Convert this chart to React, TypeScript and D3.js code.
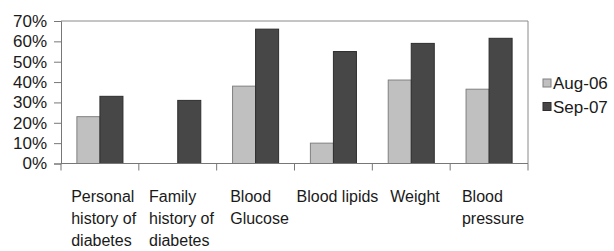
import { useRef, useEffect } from 'react';
import * as d3 from 'd3';

// chart data
const categories = [
  ["Personal", "history of", "diabetes"],
  ["Family", "history of", "diabetes"],
  ["Blood", "Glucose"],
  ["Blood lipids"],
  ["Weight"],
  ["Blood", "pressure"]
];
const seriesNames = ["Aug-06", "Sep-07"];
const aug06 = [23, 0, 38, 10, 41, 36.5];
const sep07 = [33, 31, 66, 55, 59, 61.5];
const yTicks = [0, 10, 20, 30, 40, 50, 60, 70];

const fills = ["#c0c0c0", "#474747"];
const strokes = ["#808080", "#2e2e2e"];

export default function App() {
  const ref = useRef<SVGSVGElement>(null);

  useEffect(() => {
    if (!ref.current) return;
    const width = 614;
    const height = 251;
    const margin = { top: 21, right: 86, bottom: 87.5, left: 61 };
    const font = "'Liberation Sans', Arial, sans-serif";

    const svg = d3.select(ref.current)
      .attr('width', width)
      .attr('height', height);
    svg.selectAll("*").remove();

    const idx = categories.map((_, i) => i);
    const x = d3.scaleBand<number>()
      .domain(idx)
      .range([margin.left, width - margin.right]);
    const x1 = d3.scaleBand<number>()
      .domain([0, 1])
      .range([0, x.bandwidth()])
      .paddingOuter(0.69)
      .paddingInner(0);
    const y = d3.scaleLinear()
      .domain([0, 70])
      .range([height - margin.bottom, margin.top]);

    const x0 = margin.left, xr = width - margin.right;
    const y0 = y(0), yt = y(70);

    // frame top/right
    svg.append("path")
      .attr("d", `M${x0},${yt}H${xr}V${y0}`)
      .attr("fill", "none")
      .attr("stroke", "#8a8a8a")
      .attr("stroke-width", 1);

    // bars
    const series = [aug06, sep07];
    series.forEach((vals, s) => {
      svg.append("g").selectAll("rect")
        .data(idx.filter(i => vals[i] > 0))
        .join("rect")
        .attr("x", i => x(i)! + x1(s)!)
        .attr("y", i => y(vals[i]))
        .attr("width", x1.bandwidth())
        .attr("height", i => y0 - y(vals[i]))
        .attr("fill", fills[s])
        .attr("stroke", strokes[s])
        .attr("stroke-width", 1);
    });

    // y axis
    const yAxis = svg.append("g")
      .attr("transform", `translate(${x0},0)`)
      .call(d3.axisLeft(y).tickValues(yTicks).tickSize(7).tickPadding(7).tickFormat(d => d + "%"));
    yAxis.select(".domain").attr("stroke", "#777");
    yAxis.selectAll(".tick line").attr("stroke", "#777");
    yAxis.selectAll("text")
      .attr("fill", "#1a1a1a")
      .style("font-family", font)
      .style("font-size", "17px");

    // x axis
    const xAxis = svg.append("g")
      .attr("transform", `translate(0,${y0})`);
    xAxis.append("line")
      .attr("x1", x0).attr("x2", xr)
      .attr("stroke", "#777");
    xAxis.selectAll(".xt")
      .data([...idx, categories.length])
      .join("line")
      .attr("class", "xt")
      .attr("x1", i => x0 + i * x.bandwidth())
      .attr("x2", i => x0 + i * x.bandwidth())
      .attr("y1", 0).attr("y2", 7)
      .attr("stroke", "#777");

    // category labels
    const lab = svg.append("g");
    categories.forEach((lines, i) => {
      const t = lab.append("text")
        .attr("fill", "#1a1a1a")
        .style("font-family", font)
        .style("font-size", "16px");
      lines.forEach((l, k) => {
        t.append("tspan").attr("x", 0).attr("y", 202 + k * 22).text(l);
      });
      const w = (t.node() as SVGTextElement).getBBox().width;
      t.attr("transform", `translate(${x(i)! + x.bandwidth() / 2 - w / 2 + 4},0)`);
    });

    // legend
    const lg = svg.append("g").attr("transform", `translate(543,0)`);
    seriesNames.forEach((n, s) => {
      const cy = 83 + s * 23.5;
      lg.append("rect")
        .attr("x", 0).attr("y", cy - 4)
        .attr("width", 8).attr("height", 8)
        .attr("fill", fills[s])
        .attr("stroke", strokes[s]);
      lg.append("text")
        .attr("x", 10).attr("y", cy + 6)
        .attr("fill", "#1a1a1a")
        .style("font-family", font)
        .style("font-size", "17px")
        .text(n);
    });
  }, []);

  return (
    <svg ref={ref} style={{ position: 'absolute', left: 0, top: 0, background: '#fff' }}></svg>
  );
}
